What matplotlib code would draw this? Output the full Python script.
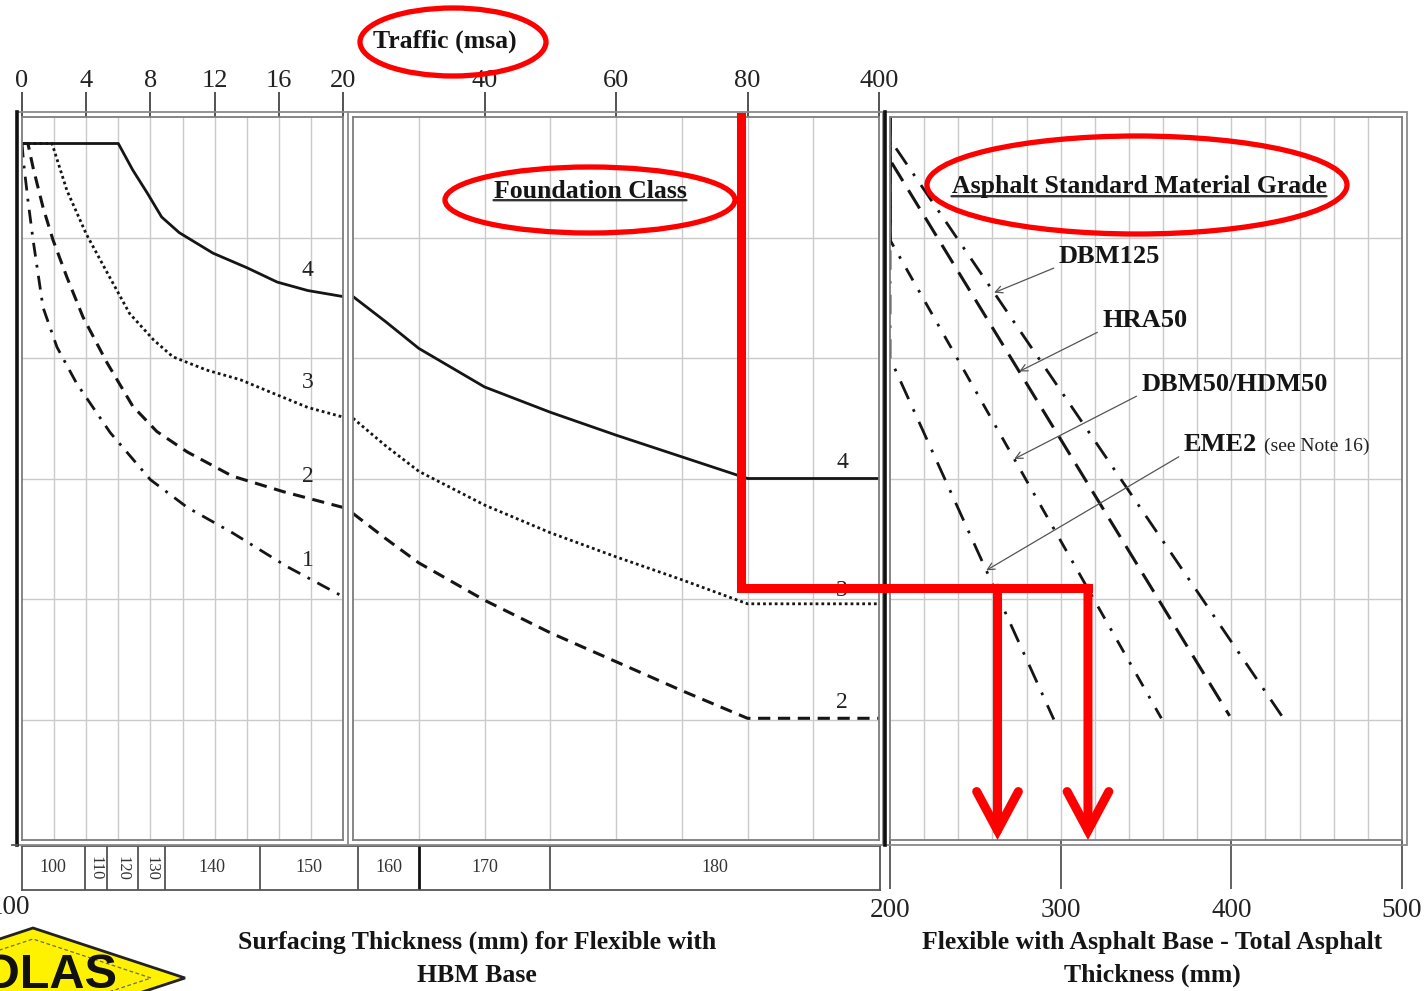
import numpy as np
import matplotlib.pyplot as plt
from matplotlib.patches import Ellipse, Polygon, Rectangle, FancyArrowPatch
from matplotlib.lines import Line2D

plt.rcParams['font.family'] = ['Liberation Serif', 'DejaVu Serif']

W, H = 1426, 991

# foundation class curves, 0-20 msa (left panel)
hbm_t_c4 = [0, 6.0, 6.9, 7.8, 8.7, 9.8, 11.9, 14.0, 15.9, 17.8, 20]
hbm_y_c4 = [5.78, 5.78, 5.56, 5.37, 5.17, 5.04, 4.87, 4.75, 4.63, 4.56, 4.51]
hbm_t_c3 = [0, 1.87, 2.8, 4.0, 5.3, 6.7, 8.2, 9.4, 11.5, 13.6, 15.6, 17.8, 20]
hbm_y_c3 = [5.78, 5.78, 5.39, 5.03, 4.71, 4.37, 4.15, 4.01, 3.90, 3.82, 3.71, 3.59, 3.51]
hbm_t_c2 = [0, 0.37, 0.69, 1.31, 1.93, 2.8, 3.8, 5.3, 6.9, 8.4, 10.3, 13.1, 16.3, 20]
hbm_y_c2 = [5.78, 5.78, 5.58, 5.25, 4.98, 4.67, 4.34, 3.96, 3.60, 3.39, 3.22, 3.02, 2.89, 2.76]
hbm_t_c1 = [0, 0.1, 0.37, 0.69, 1.31, 2.18, 3.4, 5.5, 8.0, 10.3, 13.1, 16.5, 20]
hbm_y_c1 = [5.78, 5.62, 5.31, 4.98, 4.42, 4.09, 3.79, 3.38, 2.99, 2.76, 2.55, 2.27, 2.02]

# foundation class curves, 20-400 msa (middle panel)
mid_t = [20, 25, 30, 40, 50, 60, 70, 80, 400]
mid_y_c4 = [4.51, 4.30, 4.08, 3.76, 3.55, 3.36, 3.18, 3.00, 3.00]
mid_y_c3 = [3.50, 3.27, 3.06, 2.78, 2.55, 2.35, 2.16, 1.96, 1.96]
mid_y_c2 = [2.71, 2.50, 2.30, 1.99, 1.72, 1.48, 1.24, 1.01, 1.01]

# surfacing thickness bands along the traffic axis
band_edges = [0, 3.9, 5.3, 7.2, 8.9, 14.8, 20.8, 30, 50, 400]
band_labels = ['100', '110', '120', '130', '140', '150', '160', '170', '180']

# asphalt base material lines: total thickness (mm) vs level
eme2_mm, eme2_y = [200, 200, 296], [6.0, 4.0, 1.0]
dbm50_mm, dbm50_y = [200, 200, 359], [6.0, 4.98, 1.01]
hra50_mm, hra50_y = [201, 399], [5.62, 1.03]
dbm125_mm, dbm125_y = [203.5, 431], [5.74, 1.0]

# worked example route
route_traffic = 79
route_level = 2.09
route_thickness = [263, 316]

fig = plt.figure(figsize=(W / 100, H / 100), dpi=100)
fig.patch.set_facecolor('white')


def frac(x, y):
    return x / W, 1 - y / H


def box(x0, y0, x1, y1):
    return fig.add_axes([x0 / W, 1 - y1 / H, (x1 - x0) / W, (y1 - y0) / H])


def squeeze(t):
    t = np.asarray(t, dtype=float)
    return np.where(t <= 80, t, 80 + (t - 80) / 16)


def unsqueeze(u):
    u = np.asarray(u, dtype=float)
    return np.where(u <= 80, u, 80 + (u - 80) * 16)


GRID = '#cacaca'
SPINE = '#7d7d7d'
INK = '#151515'

ax_left = box(22, 117, 343, 840)
ax_mid = box(353, 117, 879, 840)
ax_right = box(890, 117, 1402, 840)

ax_left.set_xlim(0, 20)
ax_mid.set_xscale('function', functions=(squeeze, unsqueeze))
ax_mid.set_xlim(20, 400)
ax_right.set_xlim(200, 500)

for ax in (ax_left, ax_mid, ax_right):
    ax.set_ylim(0, 6)
    ax.set_yticks([])
    for s in ax.spines.values():
        s.set_color(SPINE)
        s.set_linewidth(1.3)
    for lv in range(1, 6):
        ax.axhline(lv, color=GRID, lw=1.0, zorder=0)

for t in range(2, 20, 2):
    ax_left.axvline(t, color=GRID, lw=1.0, zorder=0)
for t in [30, 40, 50, 60, 70, 80, 240]:
    ax_mid.axvline(t, color=GRID, lw=1.0, zorder=0)
for mm in range(220, 500, 20):
    ax_right.axvline(mm, color=GRID, lw=1.0, zorder=0)

# traffic axis along the top
ax_left.xaxis.set_ticks_position('top')
ax_left.set_xticks([0, 4, 8, 12, 16, 20])
ax_mid.xaxis.set_ticks_position('top')
ax_mid.set_xticks([40, 60, 80, 400])
ax_mid.set_xticklabels(['40', '60', '80', '400'])
ax_mid.xaxis.set_minor_locator(plt.NullLocator())
for ax in (ax_left, ax_mid):
    ax.tick_params(axis='x', direction='out', length=18, width=1.3, color='#444',
                   pad=0, labelsize=19, labelcolor='#222')

ax_right.set_xticks([200, 300, 400, 500])
ax_right.tick_params(axis='x', direction='out', length=35, width=1.3, color='#555',
                     pad=6.5, labelsize=19.5, labelcolor='#222')

# foundation class curves
styles = {
    4: dict(ls='-', lw=2.0),
    3: dict(ls=(0, (1, 1.1)), lw=2.0),
    2: dict(ls=(0, (4, 2.5)), lw=2.2),
    1: dict(ls=(0, (5, 3, 1, 3)), lw=2.0),
}
ax_left.plot(hbm_t_c4, hbm_y_c4, color=INK, **styles[4])
ax_left.plot(hbm_t_c3, hbm_y_c3, color=INK, **styles[3])
ax_left.plot(hbm_t_c2, hbm_y_c2, color=INK, **styles[2])
ax_left.plot(hbm_t_c1, hbm_y_c1, color=INK, **styles[1])
ax_mid.plot(mid_t, mid_y_c4, color=INK, **styles[4])
ax_mid.plot(mid_t, mid_y_c3, color=INK, **styles[3])
ax_mid.plot(mid_t, mid_y_c2, color=INK, **styles[2])

for lbl, lv in [('4', 4.73), ('3', 3.80), ('2', 3.02), ('1', 2.32)]:
    ax_left.text(17.8, lv, lbl, ha='center', va='center', fontsize=17, color='#222')
for lbl, lv in [('4', 3.13), ('3', 2.07), ('2', 1.14)]:
    ax_mid.text(310, lv, lbl, ha='center', va='center', fontsize=17, color='#222')

# material lines
ax_right.plot([dbm50_mm[0], dbm50_mm[1]], [6.0, dbm50_y[1]], color=INK, lw=2.6)
ax_right.plot(eme2_mm, eme2_y, color=INK, lw=2.0, ls=(0, (7, 4, 1, 4)))
ax_right.plot(dbm50_mm, dbm50_y, color=INK, lw=2.0, ls=(0, (5, 4, 1, 4)))
ax_right.plot(hra50_mm, hra50_y, color=INK, lw=2.2, ls=(0, (7, 3.5)))
ax_right.plot(dbm125_mm, dbm125_y, color=INK, lw=2.0, ls=(0, (7, 4, 1, 4)))

leaders = [
    ('DBM125', dbm125_mm, dbm125_y, 261, (299, 4.84)),
    ('HRA50', hra50_mm, hra50_y, 275.7, (324.4, 4.31)),
    ('DBM50/HDM50', dbm50_mm, dbm50_y, 272.8, (347.3, 3.78)),
    ('EME2', eme2_mm, eme2_y, 256.4, (372, 3.28)),
]
label_artists = {}
for name, xs, ys, at_mm, pos in leaders:
    lv = ys[-2] + (ys[-1] - ys[-2]) * (at_mm - xs[-2]) / (xs[-1] - xs[-2])
    txt = ax_right.text(pos[0], pos[1], name, ha='left', va='center',
                        fontsize=19, fontweight='bold', color=INK)
    label_artists[name] = txt
    ax_right.annotate('', xy=(at_mm, lv), xytext=(0, 0.1), textcoords=txt,
                      arrowprops=dict(arrowstyle='->,head_length=0.5,head_width=0.25',
                                      color='#555', lw=0.9, shrinkA=4, shrinkB=0))
ax_right.annotate('(see Note 16)', xy=(1, 0.5), xycoords=label_artists['EME2'],
                  xytext=(5, -1), textcoords='offset points', ha='left', va='center',
                  fontsize=14, color='#222')

# surfacing thickness strip
ax_strip = box(22, 846, 880, 890)
ax_strip.set_xlim(0, 1)
ax_strip.set_ylim(0, 1)
ax_strip.set_xticks([])
ax_strip.set_yticks([])
for s in ax_strip.spines.values():
    s.set_color('#555')
    s.set_linewidth(1.3)
inv_strip = ax_strip.transAxes.inverted()


def strip_x(t):
    ax = ax_left if t < 20 else ax_mid
    xd = ax.transData.transform((t, 0))[0]
    return inv_strip.transform((xd, 0))[0]


edge_x = [strip_x(t) for t in band_edges]
for i, xe in enumerate(edge_x[1:-1], start=1):
    heavy = band_edges[i] == 30
    ax_strip.axvline(xe, color='#111' if heavy else '#444', lw=2.0 if heavy else 1.2)
for lbl, a, b in zip(band_labels, edge_x[:-1], edge_x[1:]):
    narrow = (b - a) * (880 - 22) < 35
    ax_strip.text((a + b) / 2, 0.5, lbl, ha='center', va='center',
                  fontsize=12 if narrow else 13, color='#333',
                  rotation=-90 if narrow else 0)


# outer frames
def frame(x0, y0, x1, y1, **kw):
    fig.add_artist(Rectangle(frac(x0, y1), (x1 - x0) / W, (y1 - y0) / H,
                             transform=fig.transFigure, fill=False, **kw))


def fline(xs, ys, **kw):
    fig.add_artist(Line2D([x / W for x in xs], [1 - y / H for y in ys],
                          transform=fig.transFigure, **kw))


frame(17, 112, 883, 845, ec='#8a8a8a', lw=1.3)
frame(885, 112, 1407, 845, ec='#8a8a8a', lw=1.3)
fline([348, 348], [112, 845], color='#8a8a8a', lw=1.3)
fline([17, 17], [112, 845], color='#111', lw=2.6)
fline([885, 885], [112, 845], color='#111', lw=2.6)
fline([12, 17], [845, 845], color='#555', lw=1.3)

# titles
TITLE = dict(fontsize=18.5, fontweight='bold', color=INK, ha='center', va='center')
fig.text(445 / W, 1 - 41 / H, 'Traffic (msa)', **TITLE)
h_found = fig.text(590 / W, 1 - 191 / H, 'Foundation Class', **TITLE)
h_grade = fig.text(1139 / W, 1 - 187 / H, 'Asphalt Standard Material Grade', **TITLE)
for h in (h_found, h_grade):
    ax_right.annotate('', xy=(1, 0.1), xycoords=h, xytext=(0, 0.1), textcoords=h,
                      annotation_clip=False,
                      arrowprops=dict(arrowstyle='-', lw=1.7, color='#333',
                                      shrinkA=0, shrinkB=0))

for txt, y in [('Surfacing Thickness (mm) for Flexible with', 942), ('HBM Base', 975)]:
    fig.text(477 / W, 1 - y / H, txt, **TITLE)
for txt, y in [('Flexible with Asphalt Base - Total Asphalt', 942), ('Thickness (mm)', 975)]:
    fig.text(1152 / W, 1 - y / H, txt, **TITLE)
fig.text(30 / W, 1 - 907 / H, '100', ha='right', va='center', fontsize=19.5, color='#222')

# logo, bottom left
cx, cy = 33, 978
diamond = [frac(cx - 152, cy), frac(cx, cy - 50), frac(cx + 152, cy), frac(cx, cy + 50)]
fig.add_artist(Polygon(diamond, closed=True, transform=fig.transFigure,
                       fc='#fff200', ec='#222', lw=2))
inner = [frac(cx - 118, cy), frac(cx, cy - 39), frac(cx + 118, cy), frac(cx, cy + 39)]
fig.add_artist(Polygon(inner, closed=True, transform=fig.transFigure,
                       fill=False, ec='#666', lw=0.9, ls=(0, (3, 2))))
fig.text(117 / W, 1 - 953 / H, 'COLAS', ha='right', va='top', fontsize=35,
         fontweight='bold', family='Liberation Sans', color='#111')

# red mark-up
RED = '#ff0000'
for (ex, ey, ew, eh) in [(453, 42, 186, 68), (590, 200, 290, 66), (1137, 185, 420, 98)]:
    fig.add_artist(Ellipse(frac(ex, ey), ew / W, eh / H, transform=fig.transFigure,
                           fill=False, ec=RED, lw=3.8))

to_fig = fig.transFigure.inverted()
p_top = to_fig.transform(ax_mid.transData.transform((route_traffic, 6.0)))
p_turn = to_fig.transform(ax_mid.transData.transform((route_traffic, route_level)))
p_end = to_fig.transform(ax_right.transData.transform((route_thickness[-1], route_level)))
fig.add_artist(Line2D([p_top[0], p_turn[0], p_end[0]], [p_top[1], p_turn[1], p_end[1]],
                      transform=fig.transFigure, color=RED, lw=6.5,
                      solid_joinstyle='miter', solid_capstyle='projecting'))
for mm in route_thickness:
    a = to_fig.transform(ax_right.transData.transform((mm, route_level)))
    b = to_fig.transform(ax_right.transData.transform((mm, 0)))
    fig.add_artist(FancyArrowPatch(a, b, transform=fig.transFigure,
                                   arrowstyle='->,head_length=1.4,head_width=0.75',
                                   mutation_scale=20, color=RED, lw=6.5,
                                   shrinkA=0, shrinkB=0, joinstyle='miter'))

fig.savefig('out.png', dpi=100)
